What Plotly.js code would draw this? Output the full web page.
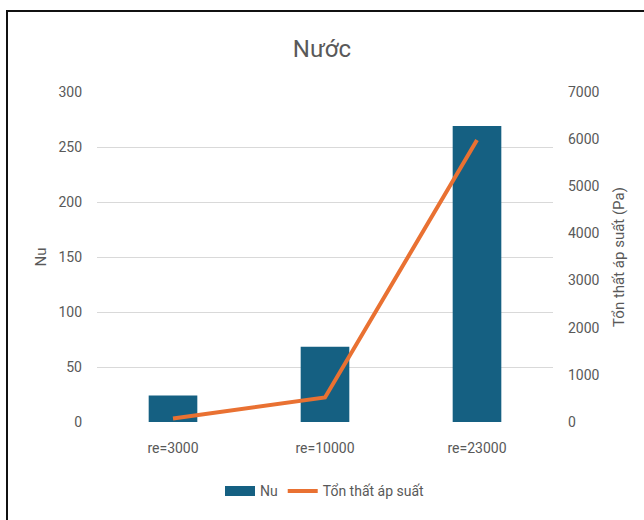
<!DOCTYPE html>
<html>
<head>
<meta charset="utf-8">
<script src="https://cdn.plot.ly/plotly-3.0.1.min.js"></script>
<style>
  html, body { margin: 0; padding: 0; background: #fff; overflow: hidden; }
  #wrap { position: relative; width: 644px; height: 520px; }
  #chart { position: absolute; left: 0; top: 0; width: 644px; height: 520px; }
  #frame { position: absolute; left: 6px; top: 10px; width: 660px; height: 540px;
           border: 2px solid #111; box-sizing: border-box; pointer-events: none; }
</style>
</head>
<body>
<div id="wrap">
  <div id="chart"></div>
  <div id="frame"></div>
</div>
<script>
// Reynolds-number cases
const categories = ["re=3000", "re=10000", "re=23000"];
// Nusselt number (left axis)
const nuValues = [24, 68.5, 269];
// Pressure loss in Pa (right axis)
const pressureLoss = [75, 520, 5980];

const leftTicks = [0, 50, 100, 150, 200, 250, 300];
const rightTicks = [0, 1000, 2000, 3000, 4000, 5000, 6000, 7000];

const barColor = "#156082";
const lineColor = "#E97132";
const textColor = "#595959";
const font = "Roboto, 'Liberation Sans', Arial, sans-serif";

const traces = [
  {
    type: "bar",
    name: "Nu",
    x: categories,
    y: nuValues,
    marker: { color: barColor },
    width: 0.32,
    yaxis: "y",
    showlegend: false
  },
  // legend entry for the bars, drawn as a wide flat swatch
  {
    type: "scatter",
    mode: "lines",
    name: "Nu",
    x: [null],
    y: [null],
    line: { color: barColor, width: 10 },
    yaxis: "y",
    showlegend: true
  },
  {
    type: "scatter",
    mode: "lines",
    name: "Tổn thất áp suất",
    x: categories,
    y: pressureLoss,
    line: { color: lineColor, width: 4 },
    yaxis: "y2"
  }
];

const layout = {
  width: 644,
  height: 520,
  paper_bgcolor: "#ffffff",
  plot_bgcolor: "#ffffff",
  margin: { l: 97, r: 91, t: 92, b: 98 },
  font: { family: font, color: textColor, size: 14 },
  title: {
    text: "Nước",
    font: { family: font, size: 24, color: textColor },
    x: 0.5, xanchor: "center",
    y: 0.907, yanchor: "middle"
  },
  xaxis: {
    type: "category",
    tickfont: { size: 14, color: textColor },
    showgrid: false,
    showline: false,
    zeroline: false,
    ticks: "",
    ticklabelstandoff: 16
  },
  yaxis: {
    range: [0, 300],
    tickvals: leftTicks,
    ticks: "",
    showline: false,
    zeroline: false,
    gridcolor: "#D9D9D9",
    gridwidth: 1,
    tickfont: { size: 14, color: textColor },
    ticklabelstandoff: 14,
    title: { text: "Nu", font: { size: 15, color: textColor }, standoff: 8 }
  },
  yaxis2: {
    range: [0, 7000],
    tickvals: rightTicks,
    overlaying: "y",
    side: "right",
    ticks: "",
    showgrid: false,
    showline: false,
    zeroline: false,
    tickfont: { size: 14, color: textColor },
    ticklabelstandoff: 14,
    title: { text: "Tổn thất áp suất (Pa)", font: { size: 15, color: textColor }, standoff: 14 }
  },
  showlegend: true,
  legend: {
    orientation: "h",
    x: 0.5, xanchor: "center",
    y: -0.21, yanchor: "middle",
    font: { size: 14, color: textColor },
    traceorder: "normal"
  }
};

Plotly.newPlot("chart", traces, layout, { displayModeBar: false, staticPlot: true });
</script>
</body>
</html>
